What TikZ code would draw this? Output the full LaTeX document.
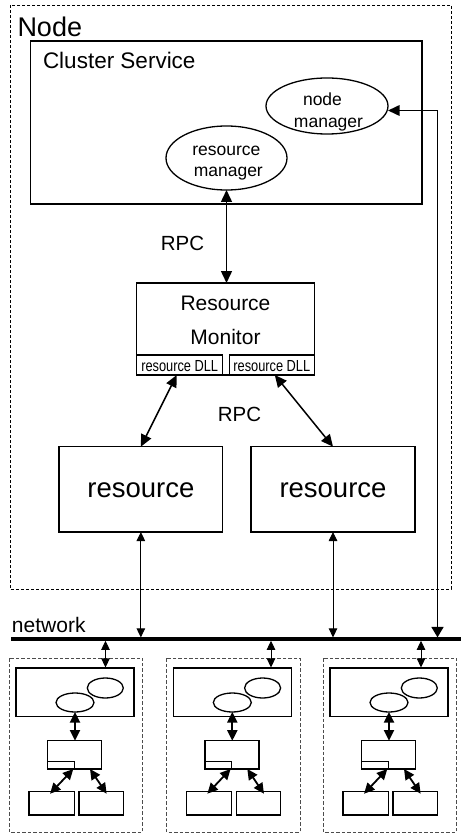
\documentclass[tikz,border=0pt]{standalone}
\usepackage{fontspec}
\setmainfont{Liberation Sans}
\usetikzlibrary{arrows.meta,shapes.geometric}

\newcommand{\fs}[2]{\fontsize{#1pt}{#2pt}\selectfont}

\tikzset{
  box/.style={draw, line width=1.3pt, inner sep=0pt, outer sep=0pt},
  oval/.style={draw, ellipse, line width=1.3pt, inner sep=0pt, outer sep=0pt},
  host/.style={draw, line width=0.7pt, dash pattern=on 3pt off 2pt},
  subhost/.style={draw=black!70, line width=0.9pt, dash pattern=on 3.5pt off 2pt},
  txt/.style={inner sep=0pt, outer sep=0pt},
  bigarr/.style={line width=1.5pt, {Triangle[length=12pt,width=11pt]}-{Triangle[length=12pt,width=11pt]}},
  miniarr/.style={line width=1.8pt, {Triangle[length=10.5pt,width=10pt]}-{Triangle[length=10.5pt,width=10pt]}},
  thinarr/.style={line width=0.9pt, {Triangle[length=9pt,width=8.5pt]}-{Triangle[length=9pt,width=8.5pt]}},
}

\begin{document}
\begin{tikzpicture}[x=1pt, y=-1pt]
\useasboundingbox (0,0) rectangle (461,834);

% ---------- detailed host ----------
\draw[host] (10,5) rectangle (451,589);
\node[txt, anchor=base west, font=\fs{27}{30}] (nodelbl) at (17.5,37) {Node};

\node[box, minimum width=391.3pt, minimum height=163pt] (cs) at (226.35,122.5) {};
\node[txt, anchor=base west, font=\fs{22.5}{26}] (cslbl) at (43,69) {Cluster Service};

\node[oval, minimum width=122pt, minimum height=56pt] (nmgr) at (327,106) {};
\node[txt, anchor=base, font=\fs{17.5}{21.5}] (nmgrt1) at (322.5,106) {node};
\node[txt, anchor=base, font=\fs{17.5}{21.5}] (nmgrt2) at (328.5,128) {manager};

\node[oval, minimum width=121pt, minimum height=64pt] (rmgr) at (226.5,158) {};
\node[txt, anchor=base, font=\fs{17.5}{21.5}] (rmgrt1) at (226.3,155.7) {resource};
\node[txt, anchor=base, font=\fs{17.5}{21.5}] (rmgrt2) at (228.3,176.7) {manager};

% resource monitor with its two DLLs
\node[box, minimum width=177.6pt, minimum height=92pt] (rm) at (225.5,329) {};
\node[txt, anchor=base, font=\fs{21}{24}] (rmt1) at (225.5,310) {Resource};
\node[txt, anchor=base, font=\fs{21}{24}] (rmt2) at (225.5,344) {Monitor};
\node[box, minimum width=86pt, minimum height=20pt] (dll1) at (179.7,365) {};
\node[box, minimum width=85pt, minimum height=20pt] (dll2) at (271.8,365) {};
\node[txt, anchor=base, font=\fs{16}{18}] (dll1t) at (179.7,371.5) {\scalebox{0.8}[1]{resource DLL}};
\node[txt, anchor=base, font=\fs{16}{18}] (dll2t) at (271.8,371.5) {\scalebox{0.8}[1]{resource DLL}};

\node[box, minimum width=163.7pt, minimum height=85.3pt] (res1) at (140.85,489.35) {};
\node[box, minimum width=164pt, minimum height=85.3pt] (res2) at (333,489.35) {};
\node[txt, font=\fs{27.5}{30}] (res1t) at (140.85,490) {resource};
\node[txt, font=\fs{27.5}{30}] (res2t) at (333,490) {resource};

\node[txt, anchor=base, font=\fs{20.5}{24}] (rpc1) at (182.5,250.7) {RPC};
\node[txt, anchor=base, font=\fs{20.5}{24}] (rpc2) at (239.5,421.7) {RPC};

% ---------- network ----------
\coordinate (netL) at (11,639);
\coordinate (netR) at (461,639);
\coordinate (netTop) at (0,637.4);
\draw[line width=3.2pt] (netL) -- (netR);
\node[txt, anchor=base west, font=\fs{21}{24}] (netlbl) at (12,632) {network};

% ---------- connectors of the detailed host ----------
\draw[bigarr] (rmgr.south) -- (rmgr.south |- rm.north);
\draw[bigarr] ([xshift=-3pt]dll1.south) -- (res1.north);
\draw[bigarr] ([xshift=3pt]dll2.south) -- (res2.north);
\coordinate (nmEnd) at (437.5,637.4);
\draw[line width=1.6pt, {Triangle[length=11.5pt,width=10.5pt]}-{Triangle[length=10.5pt,width=12pt]}]
  ([yshift=-4.5pt]nmgr.east) -| (nmEnd);
\draw[thinarr] (res1.south) -- (res1.south |- netTop);
\draw[thinarr] (res2.south) -- (res2.south |- netTop);

% ---------- three compact hosts ----------
\foreach \dx/\rx/\i in {0/105.5/1, 157.3/113.7/2, 314/107/3}{
  \begin{scope}[xshift=\dx pt]
    \draw[subhost] (9.3,658) rectangle (142.7,832);
    \node[box, minimum width=118pt, minimum height=48.5pt] (c\i) at (75,692.25) {};
    \node[oval, minimum width=36pt, minimum height=20pt] (nm\i) at (105.3,688) {};
    \node[oval, fill=white, minimum width=38pt, minimum height=19pt] (rg\i) at (75,702.5) {};
    \node[box, minimum width=54pt, minimum height=28.3pt] (m\i) at (74.7,754.85) {};
    \node[box, minimum width=26.6pt, minimum height=7.3pt] (d\i) at (61,765.35) {};
    \node[box, minimum width=45.3pt, minimum height=23.3pt] (ra\i) at (51.65,803.35) {};
    \node[box, minimum width=44.3pt, minimum height=23.3pt] (rb\i) at (101.15,803.35) {};
    \draw[miniarr] (rg\i.south) -- (rg\i.south |- m\i.north);
    \draw[miniarr] ([xshift=-1.4pt]m\i.south) -- ([xshift=-1.6pt,yshift=-2pt]ra\i.north);
    \draw[miniarr] ([xshift=15.3pt]m\i.south) -- ([xshift=5.5pt,yshift=-2pt]rb\i.north);
    \draw[thinarr] (\rx,640.8) -- (\rx,667.4);
  \end{scope}
}
\end{tikzpicture}
\end{document}
